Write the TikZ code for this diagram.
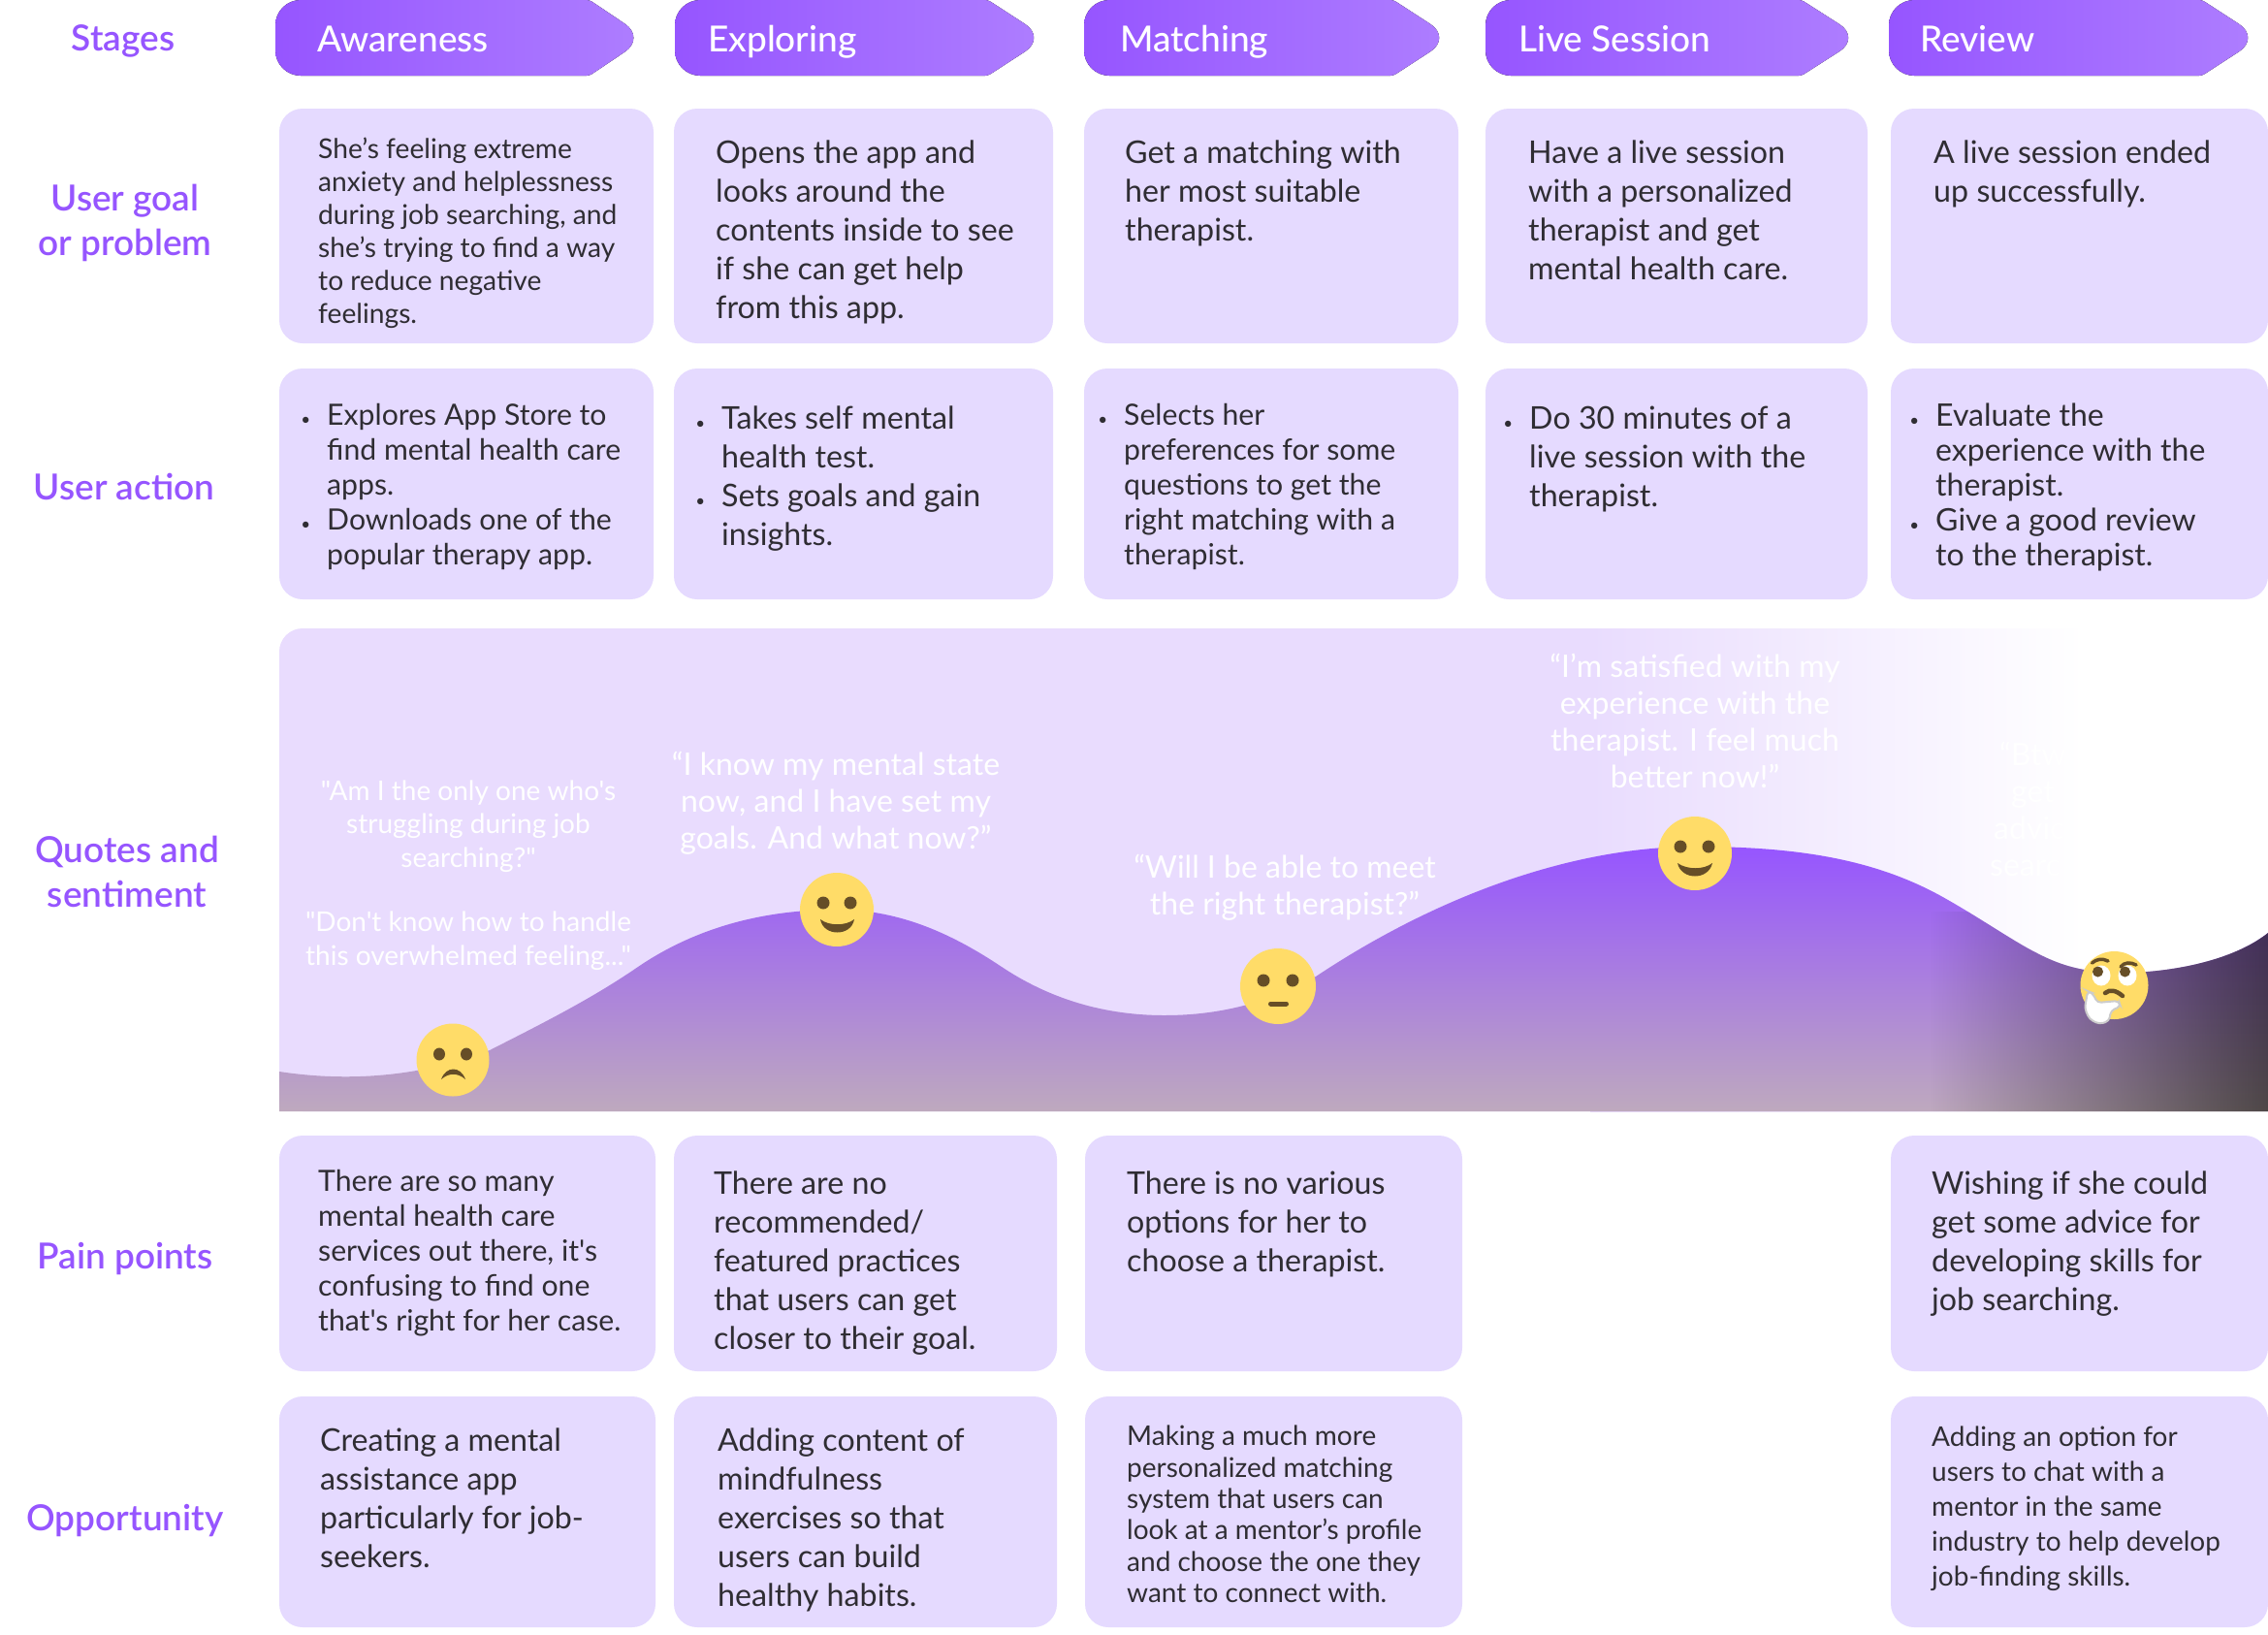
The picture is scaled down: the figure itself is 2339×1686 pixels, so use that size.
\documentclass[tikz,border=0pt]{standalone}
\usepackage{fontspec}
\usepackage{xcolor}
\usepackage{tikz}
\usetikzlibrary{fadings}
\setmainfont{Lato}[Ligatures=TeXOff]
\newfontfamily\medfont{Lato Medium}[Ligatures=TeXOff]
\newfontfamily\semifont{Lato Semibold}[Ligatures=TeXOff]
\definecolor{brandpurple}{HTML}{9655FF}
\definecolor{stagelight}{HTML}{AE7EFF}
\definecolor{cardlilac}{HTML}{E5DAFF}
\definecolor{panellilac}{HTML}{E9DCFE}
\definecolor{hillbottom}{HTML}{BEA9BE}
\definecolor{dusktop}{HTML}{402C58}
\definecolor{duskbottom}{HTML}{4E4747}
\definecolor{faceyellow}{HTML}{FFDC68}
\definecolor{facebrown}{HTML}{664E27}
\definecolor{inkgrey}{HTML}{2F2D33}
\tikzfading[name=fadeeast, left color=transparent!100, right color=transparent!0]
\newcommand{\itemdot}{\makebox[0pt][r]{{\fontsize{17}{17}\selectfont •}\hspace{17pt}}}
\tikzset{
  card/.style={fill=cardlilac, rounded corners=24pt},
  stagebox/.style={left color=brandpurple, right color=stagelight},
  stagetext/.style={text=white, anchor=base west, inner sep=0pt, font=\medfont\fontsize{37}{42}\selectfont},
  rowlabel/.style={text=brandpurple, align=center, inner sep=0pt, font=\semifont\fontsize{37}{46}\selectfont},
  bigtext/.style={text=inkgrey, align=left, anchor=north west, inner sep=0pt, font=\fontsize{32.2}{40}\selectfont},
  midtext/.style={text=inkgrey, align=left, anchor=north west, inner sep=0pt, font=\fontsize{30.2}{36}\selectfont},
  smalltext/.style={text=inkgrey, align=left, anchor=north west, inner sep=0pt, font=\fontsize{28.2}{34}\selectfont},
  quotetext/.style={text=white, align=center, inner sep=0pt, font=\fontsize{32}{38}\selectfont},
  quotesmall/.style={text=white, align=center, inner sep=0pt, font=\fontsize{28}{34.5}\selectfont},
  face/.style={fill=faceyellow},
  eye/.style={fill=facebrown},
  brow/.style={draw=facebrown, line width=3.5pt, line cap=round},
}
\begin{document}
\begin{tikzpicture}[x=1pt, y=-1pt]
  \useasboundingbox (0,0) rectangle (2339,1686);

  % stages
  \node[rowlabel] (stages) at (127,42) {Stages};
  \fill[stagebox, rounded corners=26pt] (450,0) [rounded corners=3pt] -- (608,0) [rounded corners=26pt] -- (666,39) [rounded corners=3pt] -- (608,78) [rounded corners=26pt] -- (284,78) -- (284,0) -- cycle;
  \fill[stagebox, rounded corners=26pt] (850,0) [rounded corners=3pt] -- (1019,0) [rounded corners=26pt] -- (1079,39) [rounded corners=3pt] -- (1019,78) [rounded corners=26pt] -- (696,78) -- (696,0) -- cycle;
  \fill[stagebox, rounded corners=26pt] (1280,0) [rounded corners=3pt] -- (1437,0) [rounded corners=26pt] -- (1497,39) [rounded corners=3pt] -- (1437,78) [rounded corners=26pt] -- (1118,78) -- (1118,0) -- cycle;
  \fill[stagebox, rounded corners=26pt] (1700,0) [rounded corners=3pt] -- (1858,0) [rounded corners=26pt] -- (1919,39) [rounded corners=3pt] -- (1858,78) [rounded corners=26pt] -- (1532,78) -- (1532,0) -- cycle;
  \fill[stagebox, rounded corners=26pt] (2100,0) [rounded corners=3pt] -- (2271,0) [rounded corners=26pt] -- (2331,39) [rounded corners=3pt] -- (2271,78) [rounded corners=26pt] -- (1948,78) -- (1948,0) -- cycle;
  \node[stagetext] (awareness) at (327,53.5) {Awareness};
  \node[stagetext] (exploring) at (730,53.5) {Exploring};
  \node[stagetext] (matching) at (1155,53.5) {Matching};
  \node[stagetext] (livesession) at (1566,53.5) {Live Session};
  \node[stagetext] (review) at (1980,53.5) {Review};

  % user goal or problem
  \node[rowlabel] (goallabel) at (129,230) {User goal\\or problem};
  \fill[card] (288,112) rectangle (674,354);
  \fill[card] (695,112) rectangle (1086,354);
  \fill[card] (1118,112) rectangle (1504,354);
  \fill[card] (1532,112) rectangle (1926,354);
  \fill[card] (1950,112) rectangle (2339,354);
  \node[smalltext] (goala) at (328,142) {She’s feeling extreme\\anxiety and helplessness\\during job searching, and\\she’s trying to find a way\\to reduce negative\\feelings.};
  \node[bigtext] (goalb) at (738,145) {Opens the app and\\looks around the\\contents inside to see\\if she can get help\\from this app.};
  \node[bigtext] (goalc) at (1160,145) {Get a matching with\\her most suitable\\therapist.};
  \node[bigtext] (goald) at (1576,145) {Have a live session\\with a personalized\\therapist and get\\mental health care.};
  \node[bigtext] (goale) at (1994,145) {A live session ended\\up successfully.};

  % user action
  \node[rowlabel] (actionlabel) at (128,502) {User action};
  \fill[card] (288,380) rectangle (674,618);
  \fill[card] (695,380) rectangle (1086,618);
  \fill[card] (1118,380) rectangle (1504,618);
  \fill[card] (1532,380) rectangle (1926,618);
  \fill[card] (1950,380) rectangle (2339,618);
  \node[midtext] (actiona) at (337,416) {\itemdot Explores App Store to\\find mental health care\\apps.\\\itemdot Downloads one of the\\popular therapy app.};
  \node[bigtext] (actionb) at (744,419) {\itemdot Takes self mental\\health test.\\\itemdot Sets goals and gain\\insights.};
  \node[midtext] (actionc) at (1159,416) {\itemdot Selects her\\preferences for some\\questions to get the\\right matching with a\\therapist.};
  \node[bigtext] (actiond) at (1577,419) {\itemdot Do 30 minutes of a\\live session with the\\therapist.};
  \node[midtext, font=\fontsize{32}{36}\selectfont] (actione) at (1996,416) {\itemdot Evaluate the\\experience with the\\therapist.\\\itemdot Give a good review\\to the therapist.};

  % quotes and sentiment
  \node[rowlabel] (quoteslabel) at (131,899) {Quotes and\\sentiment};
  \fill[panellilac, rounded corners=24pt] (288,648) rectangle (1700,1146);
  \fill[panellilac] (1600,648) rectangle (1640,1146);
  \shade[left color=panellilac, right color=white] (1640,648) rectangle (2150,1146);

  \newcommand{\hillcurve}{(288,1105) .. controls (340,1113) and (420,1116) .. (505,1083)
    .. controls (560,1055) and (610,1030) .. (658,997)
    .. controls (720,955) and (790,938) .. (864,938)
    .. controls (930,938) and (985,965) .. (1033,997)
    .. controls (1075,1025) and (1130,1047) .. (1201,1047)
    .. controls (1260,1047) and (1310,1033) .. (1357,1007)
    .. controls (1480,925) and (1620,873) .. (1748,873)
    .. controls (1850,873) and (1930,885) .. (2000,923)
    .. controls (2040,945) and (2075,970) .. (2101,983)
    .. controls (2130,998) and (2155,1004) .. (2200,1003)
    .. controls (2260,1000) and (2310,985) .. (2339,962)}
  \shade[top color=brandpurple, bottom color=hillbottom] \hillcurve -- (2339,1146) -- (288,1146) -- cycle;
  \begin{scope}
    \clip \hillcurve -- (2339,1146) -- (288,1146) -- cycle;
    \shade[top color=dusktop, bottom color=duskbottom, path fading=fadeeast] (1990,940) rectangle (2339,1146);
  \end{scope}

  \node[quotesmall] (quotea) at (483,852) {"Am I the only one who's\\struggling during job\\searching?"};
  \node[quotesmall] (quoteb) at (483,970) {"Don't know how to handle\\this overwhelmed feeling..."};
  \node[quotetext] (quotec) at (862,828) {“I know my mental state\\now, and I have set my\\goals. And what now?”};
  \node[quotetext] (quoted) at (1325,915) {“Will I be able to meet\\the right therapist?”};
  \node[quotetext] (quotee) at (1748,743.5) {“I’m satisfied with my\\experience with the\\therapist. I feel much\\better now!”};
  \node[quotetext, align=left, anchor=north west] (quotef) at (2052,765) {\hspace{10pt}“Btw\\\hspace{22pt}get\\\hspace{4pt}advic\\searc};

  % faces
  \fill[face] (467,1093) circle (37.5);
  \fill[eye] (453,1087) ellipse (6 and 6.5);
  \fill[eye] (481,1087) ellipse (6 and 6.5);
  \fill[eye] (455,1113) .. controls (460,1099) and (475,1099) .. (480,1113) .. controls (472,1106) and (463,1106) .. (455,1113) -- cycle;

  \fill[face] (863,938) circle (38);
  \fill[eye] (849,931) ellipse (6.5 and 6.5);
  \fill[eye] (877,931) ellipse (6.5 and 6.5);
  \fill[eye] (846,948) .. controls (855,955) and (872,955) .. (881,948) .. controls (878,966) and (849,966) .. (846,948) -- cycle;

  \fill[face] (1318,1017) circle (39);
  \fill[eye] (1303,1011) ellipse (6.5 and 6.5);
  \fill[eye] (1333,1011) ellipse (6.5 and 6.5);
  \draw[draw=facebrown, line width=5pt, line cap=round] (1310.5,1035) -- (1326.5,1035);

  \fill[face] (1748,880) circle (38);
  \fill[eye] (1733,873) ellipse (6.5 and 6.5);
  \fill[eye] (1762,873) ellipse (6.5 and 6.5);
  \fill[eye] (1730,890) .. controls (1740,897) and (1757,897) .. (1766,890) .. controls (1762,908) and (1734,908) .. (1730,890) -- cycle;

  \fill[face] (2180.5,1016) circle (35);
  \fill[white] (2167,1006) ellipse (9.5 and 10.5);
  \fill[white] (2194,1006) ellipse (9.5 and 10.5);
  \fill[eye] (2163.5,1002) circle (5.5);
  \fill[eye] (2191.5,1002) circle (5.5);
  \draw[brow] (2157.5,993) .. controls (2162,989) and (2168,988) .. (2174,991);
  \draw[brow] (2187,997) .. controls (2191,992) and (2197,992) .. (2203,995);
  \draw[brow, line width=4.5pt] (2171,1024) .. controls (2176,1020) and (2182,1021) .. (2189,1027);
  \filldraw[fill=white, draw=gray!40, line width=2pt, rounded corners=4pt] (2153,1022) -- (2158,1024) -- (2163,1034) -- (2185,1032) -- (2187,1038) -- (2177,1042) -- (2175,1053) -- (2165,1056) -- (2155,1051) -- (2150,1040) -- cycle;

  % pain points
  \node[rowlabel] (painlabel) at (129,1298) {Pain points};
  \fill[card] (288,1171) rectangle (676,1414);
  \fill[card] (695,1171) rectangle (1090,1414);
  \fill[card] (1119,1171) rectangle (1508,1414);
  \fill[card] (1950,1171) rectangle (2339,1414);
  \node[midtext] (paina) at (328,1206) {There are so many\\mental health care\\services out there, it's\\confusing to find one\\that's right for her case.};
  \node[bigtext] (painb) at (736,1208) {There are no\\recommended/\\featured practices\\that users can get\\closer to their goal.};
  \node[bigtext] (painc) at (1162,1208) {There is no various\\options for her to\\choose a therapist.};
  \node[bigtext] (paine) at (1992,1208) {Wishing if she could\\get some advice for\\developing skills for\\job searching.};

  % opportunity
  \node[rowlabel] (opplabel) at (129,1568) {Opportunity};
  \fill[card] (288,1440) rectangle (676,1678);
  \fill[card] (695,1440) rectangle (1090,1678);
  \fill[card] (1119,1440) rectangle (1508,1678);
  \fill[card] (1950,1440) rectangle (2339,1678);
  \node[bigtext] (oppa) at (330,1473) {Creating a mental\\assistance app\\particularly for job-\\seekers.};
  \node[bigtext] (oppb) at (740,1473) {Adding content of\\mindfulness\\exercises so that\\users can build\\healthy habits.};
  \node[smalltext, font=\fontsize{28}{32.3}\selectfont] (oppc) at (1162,1470) {Making a much more\\personalized matching\\system that users can\\look at a mentor’s profile\\and choose the one they\\want to connect with.};
  \node[smalltext, font=\fontsize{28}{36}\selectfont] (oppe) at (1992,1471) {Adding an option for\\users to chat with a\\mentor in the same\\industry to help develop\\job-finding skills.};
\end{tikzpicture}
\end{document}
